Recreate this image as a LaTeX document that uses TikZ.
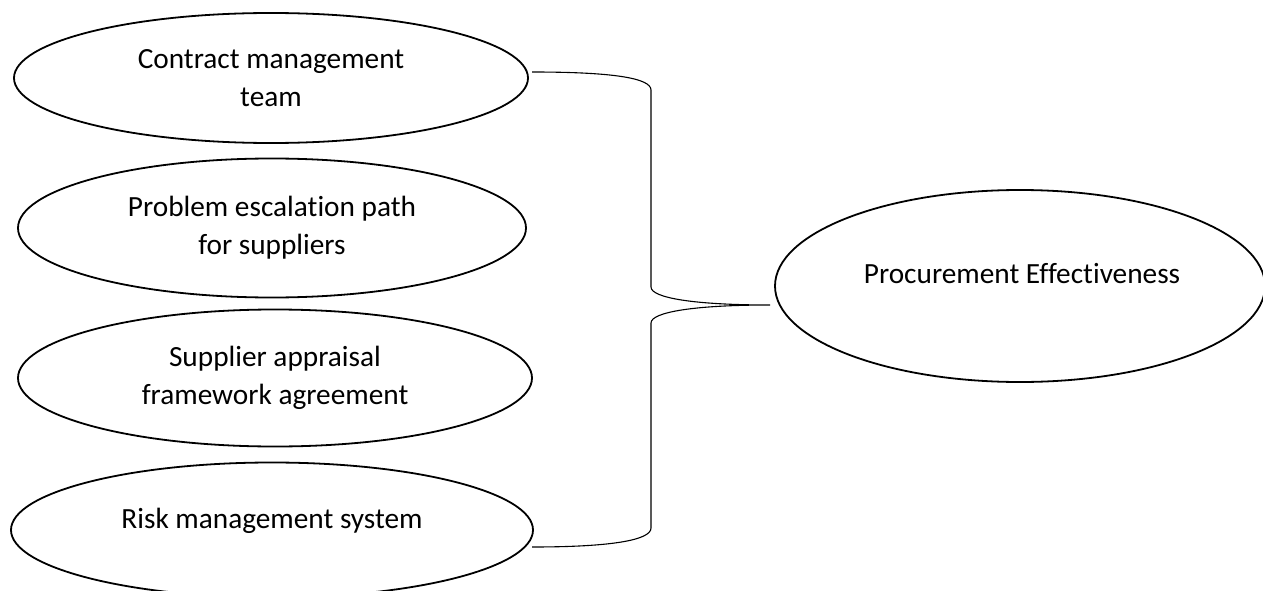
\documentclass[tikz,border=0pt]{standalone}
\usepackage{fontspec}
\setmainfont{Carlito}[Ligatures={NoCommon}]
\usetikzlibrary{shapes.geometric}
\begin{document}
\begin{tikzpicture}[x=1pt,y=-1pt,
  oval/.style={draw=black, line width=1.8pt, ellipse, inner sep=0pt, align=center,
    font=\fontsize{29.3}{38}\selectfont},
  lbl/.style={inner sep=0pt, anchor=base, font=\fontsize{29.3}{38}\selectfont},
  brace/.style={draw=black, line width=1.1pt}]
\useasboundingbox[fill=white] (0,0) rectangle (1263,591);
\begin{scope}
\clip (0,0) rectangle (1263,591);
\node[oval, minimum width=514pt, minimum height=130pt] (e1) at (271,78) {Contract management\\team};
\node[oval, minimum width=508pt, minimum height=139pt] (e2) at (272,228) {Problem escalation path\\for suppliers};
\node[oval, minimum width=514pt, minimum height=137pt] (e3) at (275,378) {Supplier appraisal\\framework agreement};
\node[oval, minimum width=522pt, minimum height=135pt] (e4) at (272,530) {};
\node[lbl] (t4) at (272,528) {Risk management system};
\node[oval, minimum width=490pt, minimum height=192pt] (e5) at (1020,286) {};
\node[lbl] (t5) at (1022,283) {Procurement Effectiveness};
\end{scope}
\coordinate (bt) at (532,72);
\coordinate (bb) at (532,547);
\coordinate (tip) at (770,305);
\draw[brace] (bt) .. controls (612,72) and (651,78) .. (651,90)
  -- (651,287) .. controls (651,298) and (695,305) .. (tip)
  .. controls (695,305) and (651,312) .. (651,323)
  -- (651,528) .. controls (651,540) and (612,547) .. (bb);
\end{tikzpicture}
\end{document}
